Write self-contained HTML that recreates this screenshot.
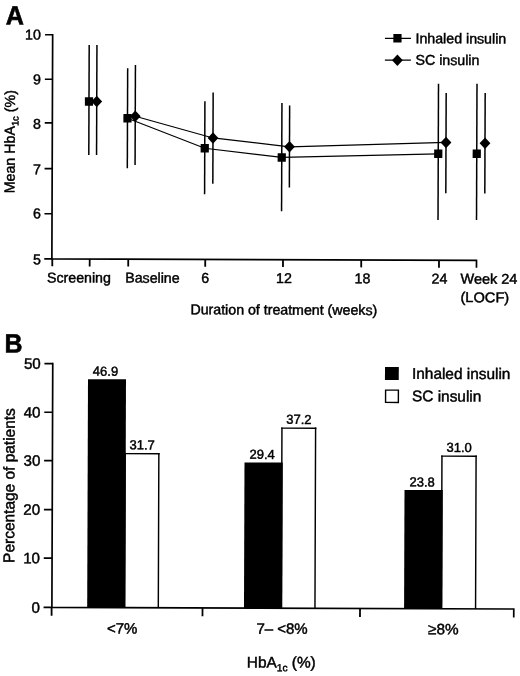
<!DOCTYPE html>
<html lang="en"><head><meta charset="utf-8"><title>Figure</title>
<style>html,body{margin:0;padding:0;background:#fff;}body{width:520px;height:676px;overflow:hidden;}svg{display:block;}text{font-family:"Liberation Sans", Arial, Helvetica, sans-serif;fill:#000;stroke:#000;stroke-width:0.45px;}.a{font-size:14.2px;}.b{font-size:15.4px;}.c{font-size:15px;stroke-width:0.45px;}.v{font-size:13px;stroke-width:0.45px;}.h{font-size:26.5px;font-weight:bold;stroke-width:0.6px;}.ax{stroke:#000;stroke-width:1.7;fill:none;stroke-linejoin:miter;}.hx{stroke:#000;stroke-width:1.6;fill:none;}.vx{stroke:#000;stroke-width:1.8;fill:none;}.eb{stroke:#000;stroke-width:1.5;fill:none;}.ln{stroke:#000;stroke-width:1.25;fill:none;}.wb{fill:#fff;stroke:#000;stroke-width:1.4;}</style></head><body>
<svg width="520" height="676" viewBox="0 0 520 676">
<rect width="520" height="676" fill="#fff"/>
<g transform="rotate(0.2 260 338)">
<text class="h" transform="translate(4.71 25.49) scale(0.95 1)">A</text>
<path class="ax" d="M51.60 34.64V259.62H476.23V267.02"/>
<path class="hx" d="M44.00 259.62H51.60"/>
<text class="a" x="40.54" y="265.17" text-anchor="end">5</text>
<path class="hx" d="M44.00 214.44H51.60"/>
<text class="a" x="40.38" y="219.17" text-anchor="end">6</text>
<path class="hx" d="M44.00 169.34H51.60"/>
<text class="a" x="40.23" y="174.97" text-anchor="end">7</text>
<path class="hx" d="M44.00 123.64H51.60"/>
<text class="a" x="40.07" y="129.47" text-anchor="end">8</text>
<path class="hx" d="M44.00 80.04H51.60"/>
<text class="a" x="39.91" y="85.17" text-anchor="end">9</text>
<path class="hx" d="M44.00 35.44H51.60"/>
<text class="a" x="39.76" y="40.27" text-anchor="end">10</text>
<path class="vx" d="M52.03 259.62V267.02"/>
<path class="vx" d="M89.43 259.62V267.02"/>
<path class="vx" d="M127.98 259.62V267.02"/>
<path class="vx" d="M204.98 259.62V267.02"/>
<path class="vx" d="M282.73 259.62V267.02"/>
<path class="vx" d="M360.98 259.62V267.02"/>
<path class="vx" d="M438.73 259.62V267.02"/>
<text class="a" x="46.81" y="283.14">Screening</text>
<text class="a" x="125.01" y="283.07">Baseline</text>
<text class="a" x="205.06" y="282.99" text-anchor="middle">6</text>
<text class="a" x="283.81" y="282.92" text-anchor="middle">12</text>
<text class="a" x="362.31" y="282.94" text-anchor="middle">18</text>
<text class="a" x="439.31" y="282.87" text-anchor="middle">24</text>
<text class="a" transform="translate(460.31 282.90) scale(1.02 1)">Week 24</text>
<text class="a" transform="translate(460.37 301.40) scale(1.03 1)">(LOCF)</text>
<text class="a" x="190.32" y="314.54">Duration of treatment (weeks)</text>
<text class="a" transform="translate(14.09 194.16) rotate(-90) scale(0.975 1)" style="font-size:14.6px">Mean HbA<tspan font-size="9.6" dy="3.6">1c</tspan><tspan dy="-3.6"> (%)</tspan></text>
<path class="ln" d="M126.73 118.71 L204.09 148.44 L281.12 157.42 L437.61 153.13"/>
<path class="ln" d="M134.48 116.69 L212.30 138.16 L288.83 146.65 L445.32 141.85"/>
<path class="eb" d="M88.17 45.60V155.60"/>
<rect x="84.07" y="97.85" width="8.2" height="8.5"/>
<path class="eb" d="M126.73 68.71V168.71"/>
<rect x="122.63" y="114.46" width="8.2" height="8.5"/>
<path class="eb" d="M204.09 101.44V194.44"/>
<rect x="199.99" y="144.19" width="8.2" height="8.5"/>
<path class="eb" d="M281.12 102.92V211.17"/>
<rect x="277.02" y="153.17" width="8.2" height="8.5"/>
<path class="eb" d="M437.61 83.13V219.38"/>
<rect x="433.51" y="148.88" width="8.2" height="8.5"/>
<path class="eb" d="M476.11 82.99V219.24"/>
<rect x="472.01" y="148.74" width="8.2" height="8.5"/>
<path class="eb" d="M95.92 45.57V155.57"/>
<path d="M90.52 102.07l5.4 -5.7l5.4 5.7l-5.4 5.7z"/>
<path class="eb" d="M134.48 65.44V165.44"/>
<path d="M129.08 116.69l5.4 -5.7l5.4 5.7l-5.4 5.7z"/>
<path class="eb" d="M212.30 92.66V183.91"/>
<path d="M206.90 138.16l5.4 -5.7l5.4 5.7l-5.4 5.7z"/>
<path class="eb" d="M288.83 105.40V187.40"/>
<path d="M283.43 146.65l5.4 -5.7l5.4 5.7l-5.4 5.7z"/>
<path class="eb" d="M445.32 92.35V192.60"/>
<path d="M439.92 141.85l5.4 -5.7l5.4 5.7l-5.4 5.7z"/>
<path class="eb" d="M484.32 92.21V192.71"/>
<path d="M478.92 142.46l5.4 -5.7l5.4 5.7l-5.4 5.7z"/>
<path class="ln" d="M383.90 37.82H409.90"/>
<rect x="392.30" y="33.57" width="8.2" height="8.5"/>
<text class="a" x="414.47" y="42.66">Inhaled insulin</text>
<path class="ln" d="M383.93 59.72H409.93"/>
<path d="M391.03 59.72l5.4 -5.7l5.4 5.7l-5.4 5.7z"/>
<text class="a" x="414.55" y="64.26">SC insulin</text>
<text class="h" transform="translate(4.55 353.29) scale(0.94 1)">B</text>
<path class="hx" d="M44.54 608.13H52.84"/>
<text class="b" x="40.76" y="613.57" text-anchor="end" style="font-size:15.1px">0</text>
<path class="hx" d="M44.54 558.84H52.84"/>
<text class="b" x="40.77" y="564.17" text-anchor="end" style="font-size:15.1px">10</text>
<path class="hx" d="M44.54 510.34H52.84"/>
<text class="b" x="40.78" y="515.67" text-anchor="end" style="font-size:15.1px">20</text>
<path class="hx" d="M44.54 461.34H52.84"/>
<text class="b" x="40.79" y="466.67" text-anchor="end" style="font-size:15.1px">30</text>
<path class="hx" d="M44.54 412.94H52.84"/>
<text class="b" x="40.80" y="418.27" text-anchor="end" style="font-size:15.1px">40</text>
<path class="hx" d="M44.54 364.34H52.84"/>
<text class="b" x="40.81" y="369.67" text-anchor="end" style="font-size:15.1px">50</text>
<path class="vx" d="M52.56 608.13V616.53"/>
<path class="vx" d="M203.46 608.13V616.53"/>
<path class="vx" d="M360.96 608.13V616.53"/>
<rect x="125.40" y="453.41" width="34.25" height="154.72" fill="#fff"/>
<path d="M124.80 454.06H160.05" stroke="#000" stroke-width="1.35" fill="none"/>
<path d="M159.25 453.41V608.13 M125.60 453.41V608.13" stroke="#000" stroke-width="1.45" fill="none"/>
<text class="v" x="142.51" y="449.81" text-anchor="middle">31.7</text>
<rect x="282.06" y="427.36" width="34.25" height="180.76" fill="#fff"/>
<path d="M281.46 428.01H316.71" stroke="#000" stroke-width="1.35" fill="none"/>
<path d="M315.91 427.36V608.13 M282.26 427.36V608.13" stroke="#000" stroke-width="1.45" fill="none"/>
<text class="v" x="299.17" y="423.76" text-anchor="middle">37.2</text>
<rect x="442.16" y="454.81" width="34.75" height="153.32" fill="#fff"/>
<path d="M441.56 455.46H477.31" stroke="#000" stroke-width="1.35" fill="none"/>
<path d="M476.51 454.81V608.13 M442.36 454.81V608.13" stroke="#000" stroke-width="1.45" fill="none"/>
<text class="v" x="459.52" y="451.21" text-anchor="middle">31.0</text>
<rect x="88.14" y="379.79" width="38.00" height="228.34" fill="#000"/>
<text class="v" x="105.63" y="376.19" text-anchor="middle">46.9</text>
<rect x="244.93" y="462.49" width="38.25" height="145.64" fill="#000"/>
<text class="v" x="262.55" y="458.89" text-anchor="middle">29.4</text>
<rect x="405.03" y="489.43" width="38.25" height="118.70" fill="#000"/>
<text class="v" x="422.64" y="485.83" text-anchor="middle">23.8</text>
<path class="ax" d="M52.84 363.54V608.13H514.71V616.53"/>
<text class="c" x="108.03" y="633.93">&lt;7%</text>
<text class="c" x="257.43" y="633.71">7– &lt;8%</text>
<text class="c" transform="translate(429.03 633.61) scale(1.02 1)">≥8%</text>
<text class="b" x="247.95" y="667.45">HbA<tspan font-size="10.2" dy="3.8">1c</tspan><tspan dy="-3.8"> (%)</tspan></text>
<text class="b" transform="translate(14.98 563.76) rotate(-90) scale(0.985 1)" style="font-size:15.7px">Percentage of patients</text>
<rect x="385.10" y="366.56" width="13.8" height="13" fill="#000"/>
<rect class="wb" x="385.78" y="389.66" width="12.8" height="12.3"/>
<text class="b" x="412.14" y="378.27">Inhaled insulin</text>
<text class="b" x="412.22" y="400.77">SC insulin</text>
</g>
</svg></body></html>
